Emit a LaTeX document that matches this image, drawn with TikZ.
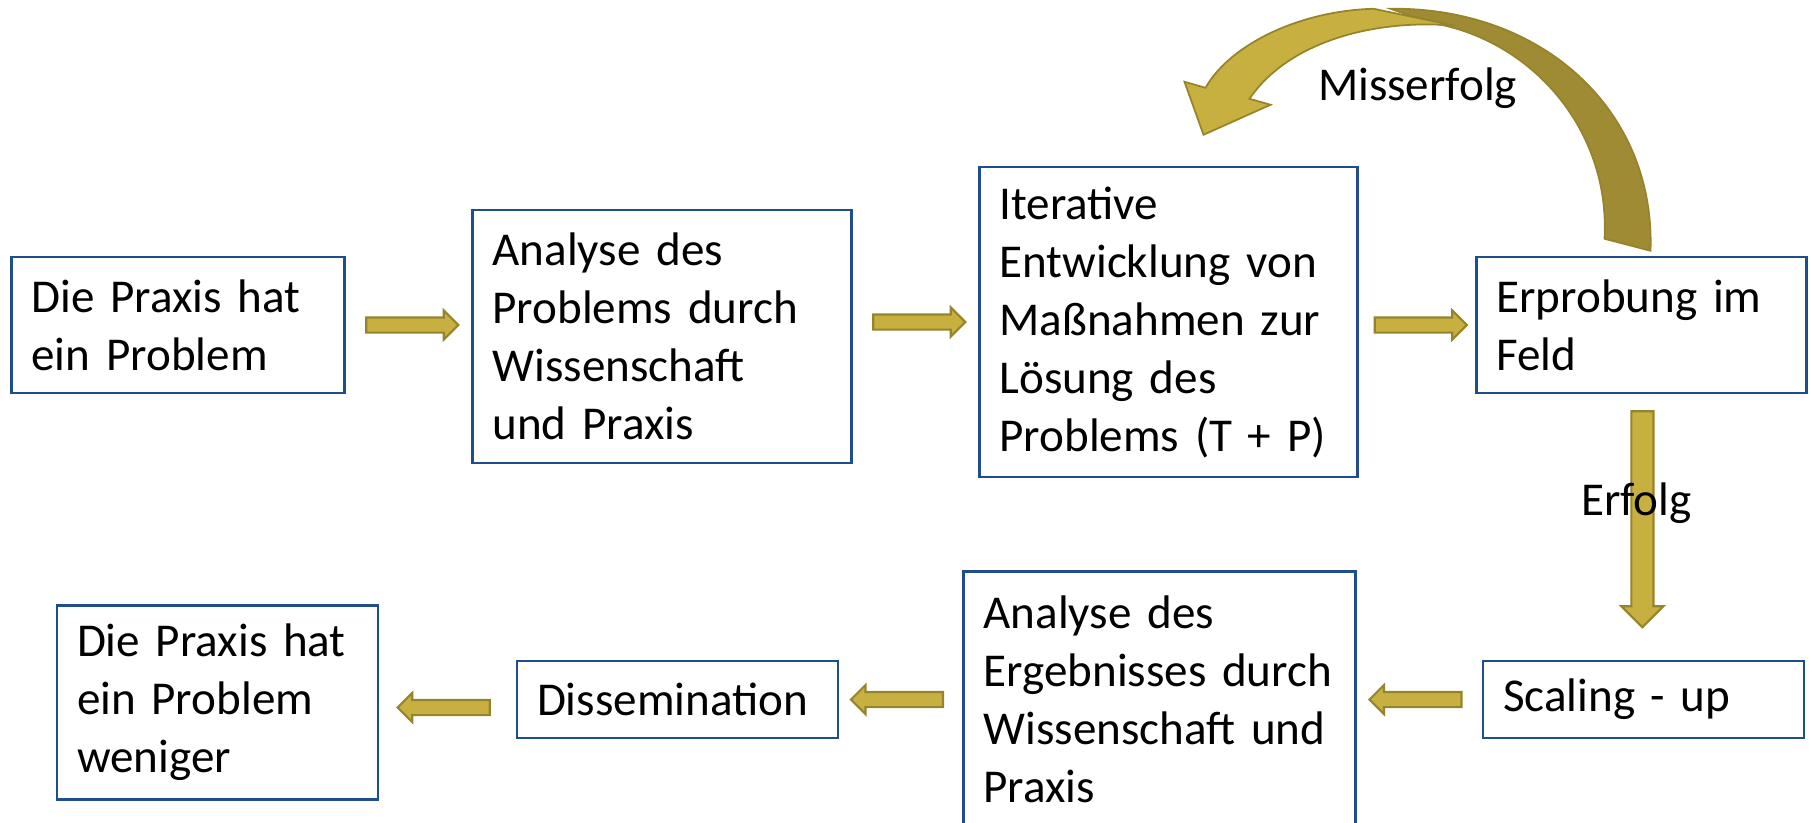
\documentclass[tikz,border=0pt]{standalone}
\usepackage{fontspec}
\setmainfont{Carlito}
\usetikzlibrary{shapes.arrows, calc}
\definecolor{boxblue}{RGB}{31,78,140}
\definecolor{gold}{RGB}{200,176,64}
\definecolor{goldline}{RGB}{150,132,44}
\definecolor{golddark}{RGB}{158,139,52}
\tikzstyle{box} = [rectangle, 
inner xsep=0.2cm,
align=left,
draw=boxblue,
line width=0.7pt,
font=\fontsize{13.4}{16.5}\selectfont]
\tikzstyle{flowlabel} = [inner sep=0pt, 
font=\fontsize{13.4}{16.5}\selectfont]
\tikzstyle{blockarrow} = [single arrow, 
minimum height=0.92cm, 
inner xsep=0pt,
inner ysep=0.065cm, % shaft thickness
single arrow head extend=0.07cm,
draw=goldline, fill=gold, line width=0.6pt]
\tikzstyle{downarrow} = [blockarrow, 
minimum height=2.16cm, 
inner xsep=0.10cm, % rotated, so x gives the shaft
inner ysep=0pt, 
single arrow head extend=0.10cm, 
shape border rotate=270]

\begin{document}
\begin{tikzpicture}[node distance=4.8cm]
    \useasboundingbox (0,0) rectangle (18.09,-8.22);

    \node (praxis) [box, text width=2.93cm, minimum height=1.36cm] at (1.78,-3.25) {Die Praxis hat\\ein Problem};

    \node (analyse) [box, right of=praxis, text width=3.39cm, minimum height=2.53cm, xshift=0.04cm, yshift=-0.115cm] {Analyse des\\Problems durch\\Wissenschaft\\und Praxis};

    \node (entwicklung) [box, right of=analyse, text width=3.38cm, minimum height=3.10cm, xshift=0.265cm, yshift=0.145cm] {Iterative\\Entwicklung von\\Maßnahmen zur\\Lösung des\\Problems (T + P)};

    \node (erprobung) [box, right of=entwicklung, text width=2.90cm, minimum height=1.36cm, xshift=-0.07cm, yshift=-0.03cm] {Erprobung im\\Feld};

    \node (scaling) [box, below of=erprobung, text width=2.81cm, minimum height=0.77cm, xshift=0.02cm, yshift=1.055cm] {Scaling - up};

    \node (ergebnis) [box, left of=scaling, text width=3.52cm, minimum height=2.56cm, xshift=-0.04cm] {Analyse des\\Ergebnisses durch\\Wissenschaft und\\Praxis};

    \node (dissemination) [box, left of=ergebnis, text width=2.81cm, minimum height=0.77cm, xshift=-0.02cm] {Dissemination};

    \node (weniger) [box, left of=dissemination, text width=2.81cm, minimum height=1.94cm, xshift=0.2cm, yshift=-0.03cm] {Die Praxis hat\\ein Problem\\weniger};

    \path (praxis.east) -- node[blockarrow] {} (analyse.west |- praxis.east);
    \path (analyse.east |- entwicklung.center) -- node[blockarrow] {} (entwicklung.west);
    \path (entwicklung.east |- erprobung.east) -- node[blockarrow] {} (erprobung.west);
    \path (erprobung.south) -- node[downarrow, pos=0.45] {} node[flowlabel, pos=0.41, xshift=-0.06cm] {Erfolg} (scaling.north);
    \path (scaling.west) -- node[blockarrow, shape border rotate=180] {} (ergebnis.east |- scaling.west);
    \path (ergebnis.west |- dissemination.east) -- node[blockarrow, shape border rotate=180] {} (dissemination.east);
    \path (dissemination.west) -- node[blockarrow, shape border rotate=180, yshift=-0.08cm] {} (weniger.east |- dissemination.west);

    % back of the curved arrow
    \begin{scope}[shift={(erprobung.north)}]
        \filldraw[fill=golddark, draw=goldline, line width=0.5pt] (0.09,0.05) .. controls (0.14,1.47) and (-1.01,2.49) .. (-2.51,2.47) -- (-2.11,2.33) .. controls (-1.11,2.17) and (-0.31,1.27) .. (-0.37,0.17) -- cycle;
    \end{scope}
    \begin{scope}[shift={(entwicklung.north)}]
        \filldraw[fill=gold, draw=goldline, line width=0.5pt] (0.81,0.67) -- (1.02,0.61) -- (0.35,0.31) -- (0.16,0.84) -- (0.37,0.78) .. controls (0.62,1.22) and (1.32,1.55) .. (2.05,1.57) -- (2.87,1.40) .. controls (2.12,1.47) and (1.22,1.27) .. (0.81,0.67) -- cycle;
    \end{scope}
    \node (misserfolg) [flowlabel] at ($(entwicklung.north)+(2.49,0.78)$) {Misserfolg};
\end{tikzpicture}
\end{document}
